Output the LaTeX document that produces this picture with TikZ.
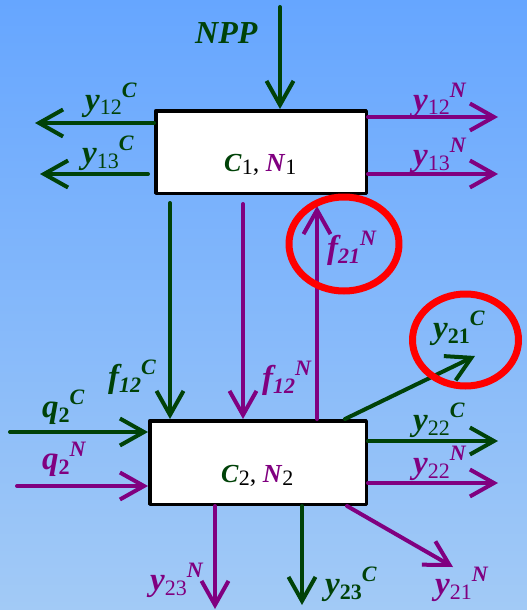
\documentclass[tikz,border=0pt]{standalone}
\usepackage{fontspec}
\setmainfont{Liberation Serif}
\usetikzlibrary{arrows.meta}
\definecolor{cgreen}{RGB}{0,66,8}
\definecolor{cpurple}{RGB}{128,0,128}
\definecolor{bgtop}{RGB}{102,166,255}
\definecolor{bgbot}{RGB}{162,202,246}
% label: colour, letter, subscript, superscript
\newcommand\flux[4]{\textcolor{#1}{\fontsize{33}{33}\selectfont\bfseries\itshape #2%
  \raisebox{-5pt}{\fontsize{22}{22}\selectfont\upshape\mdseries #3}%
  \raisebox{13pt}{\fontsize{22}{22}\selectfont #4}}}
\newcommand\pool[1]{\fontsize{26}{26}\selectfont
  \textcolor{cgreen}{\textbf{\textit{C}}}\raisebox{-3pt}{\fontsize{22}{22}\selectfont #1},
  \textcolor{cpurple}{\textbf{\textit{N}}}\raisebox{-3pt}{\fontsize{22}{22}\selectfont #1}}
\begin{document}
\begin{tikzpicture}[x=1pt,y=-1pt,line join=round,line cap=round,>={Straight Barb[length=24pt,width=27pt,line width=4pt]}]
	\tikzset{box/.style={draw,line width=3.5pt,fill=white,inner sep=0pt},
		garr/.style={->,cgreen,line width=4pt},
		parr/.style={->,cpurple,line width=4pt},
		lbl/.style={anchor=base west,inner sep=0pt},
		ring/.style={red,line width=7pt}}
	\shade[top color=bgtop,bottom color=bgbot] (0,0) rectangle (527,610);
	\useasboundingbox (0,0) rectangle (527,610);
	% the two boxes
	\node[box,minimum width=210.5pt,minimum height=82.5pt] (b1) at (261,152) {};
	\node[box,minimum width=216.5pt,minimum height=83.5pt] (b2) at (258,462.5) {};
	\node[lbl] (t1) at (224,171) {\pool{1}};
	\node[lbl] (t2) at (221,482) {\pool{2}};
	% ends of the flows
	\coordinate (npp) at (280,7);
	\coordinate (o12c) at (35,123);  \coordinate (o13c) at (40,174);
	\coordinate (o12n) at (498,117); \coordinate (o13n) at (498,174);
	\coordinate (f12c) at (170,203); \coordinate (f12n) at (243,204);
	\coordinate (f21n) at (317,206);
	\coordinate (q2c) at (10,432);   \coordinate (q2n) at (17,486);
	\coordinate (o22c) at (498,441); \coordinate (o22n) at (498,483);
	\coordinate (o23n) at (215,609); \coordinate (o23c) at (302,605);
	\coordinate (o21c) at (475,356); \coordinate (o21n) at (453,567);
	% box 1
	\draw[garr] (npp)--(npp|-b1.north);
	\draw[garr] (o12c-|b1.west)--(o12c);
	\draw[garr] ([xshift=-6pt]o13c-|b1.west)--(o13c);
	\draw[parr] (o12n-|b1.east)--(o12n);
	\draw[parr] (o13n-|b1.east)--(o13n);
	% between the boxes
	\draw[garr] (f12c)--(f12c|-b2.north);
	\draw[parr] (f12n)--(f12n|-b2.north);
	\draw[parr] (f21n|-b2.north)--(f21n);
	% box 2
	\draw[garr] (q2c)--(q2c-|b2.west);
	\draw[parr] (q2n)--(q2n-|b2.west);
	\draw[garr] (o22c-|b2.east)--(o22c);
	\draw[parr] (o22n-|b2.east)--(o22n);
	\draw[parr] (o23n|-b2.south)--(o23n);
	\draw[garr] (o23c|-b2.south)--(o23c);
	\draw[garr] ([xshift=-23pt]b2.north east)--(o21c);
	\draw[parr] ([xshift=-21pt]b2.south east)--(o21n);
	% labels
	\node[lbl] (lnpp) at (195,44) {\textcolor{cgreen}{\fontsize{32}{32}\selectfont\bfseries\itshape NPP}};
	\node[lbl] (l12c) at (85,110) {\flux{cgreen}{y}{12}{\bfseries\itshape C}};
	\node[lbl] (l13c) at (82,163) {\flux{cgreen}{y}{13}{\bfseries\itshape C}};
	\node[lbl] (l12n) at (413,110) {\flux{cpurple}{y}{12}{\itshape N}};
	\node[lbl] (l13n) at (413,165) {\flux{cpurple}{y}{13}{\itshape N}};
	\node[lbl] (lf12c) at (108,387) {\flux{cgreen}{f}{\bfseries\itshape 12}{\bfseries\itshape C}};
	\node[lbl] (lf12n) at (262,388) {\flux{cpurple}{f}{\bfseries\itshape 12}{\itshape N}};
	\node[lbl] (lf21n) at (327,258) {\flux{cpurple}{f}{\bfseries\itshape 21}{\itshape N}};
	\node[lbl] (l21c) at (433,338) {\flux{cgreen}{y}{\bfseries 21}{\bfseries\itshape C}};
	\node[lbl] (lq2c) at (42,417) {\flux{cgreen}{q}{\bfseries 2}{\bfseries\itshape C}};
	\node[lbl] (lq2n) at (42,469) {\flux{cpurple}{q}{\bfseries 2}{\itshape N}};
	\node[lbl] (l22c) at (413,430) {\flux{cgreen}{y}{22}{\bfseries\itshape C}};
	\node[lbl] (l22n) at (413,473) {\flux{cpurple}{y}{22}{\itshape N}};
	\node[lbl] (l23n) at (150,590) {\flux{cpurple}{y}{23}{\itshape N}};
	\node[lbl] (l23c) at (325,594) {\flux{cgreen}{y}{\bfseries 23}{\bfseries\itshape C}};
	\node[lbl] (l21n) at (435,594) {\flux{cpurple}{y}{21}{\itshape N}};
	% marks
	\draw[ring] (344,244) ellipse [x radius=55pt,y radius=47pt];
	\draw[ring] (465.5,340) ellipse [x radius=53pt,y radius=46pt];
\end{tikzpicture}
\end{document}
